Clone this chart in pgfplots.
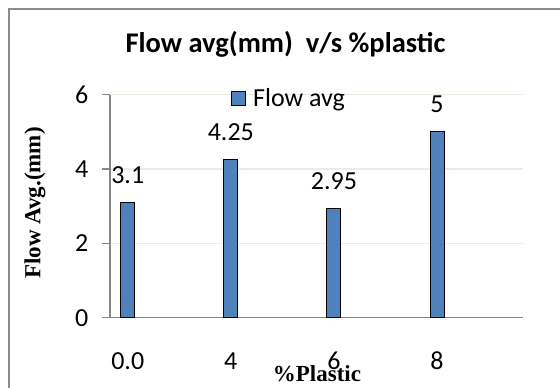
\documentclass[border=0pt]{standalone}
\usepackage{pgfplots}
\pgfplotsset{compat=1.18}
\usepackage{fontspec}
\setmainfont{Carlito}
\newfontfamily\tnr{Liberation Serif}
\definecolor{barblue}{RGB}{79,129,189}
\definecolor{gridc}{RGB}{238,236,225}
\definecolor{axisg}{RGB}{134,134,134}
\definecolor{frameg}{RGB}{140,140,140}
\begin{document}
\begin{tikzpicture}
\useasboundingbox (0pt,0pt) rectangle (560pt,388pt);
\fill[white] (0pt,0pt) rectangle (560pt,388pt);
\draw[frameg, line width=1.5pt] (9pt,0pt) -- (9pt,379pt) -- (560pt,379pt);
\begin{axis}[
  at={(110pt,70.3pt)}, anchor=south west,
  scale only axis, width=413pt, height=223pt,
  xmin=-0.172, xmax=3.834, ymin=0, ymax=6,
  ytick={0,2,4,6}, xtick={0,1,2,3}, xticklabels={0.0,4,6,8},
  /pgf/number format/assume math mode=true,
  axis x line*=bottom, axis y line*=left,
  axis line style={draw=axisg, line width=1.5pt, -},
  ymajorgrids, grid style={draw=gridc, line width=1.5pt},
  xtick style={draw=none},
  ytick style={draw=axisg, line width=1.5pt},
  tick align=outside, major tick length=7.5pt,
  tick label style={font=\fontsize{26}{31}\selectfont, inner sep=0pt},
  yticklabel style={anchor=east, xshift=-14pt},
  xticklabel style={anchor=base, yshift=-44pt},
  ybar, bar width=14pt,
  nodes near coords,
  nodes near coords style={anchor=base, yshift=19pt, inner sep=0pt, font=\fontsize{26}{31}\selectfont, text=black},
  legend style={at={(0.293,0.985)}, anchor=west, draw=none, fill=none, inner sep=0pt,
    font=\fontsize{26}{31}\selectfont, nodes={inner sep=0pt}},
  legend image code/.code={\draw[#1] (0pt,-7pt) rectangle (14pt,7pt);},
  legend cell align=left,
  clip=false,
]
\addplot[fill=barblue, draw=black, line width=1pt] coordinates {(0,3.1) (1,4.25) (2,2.95) (3,5)};
\addlegendentry{\hspace{7pt}Flow avg}
\end{axis}
\node[anchor=base, font=\bfseries\fontsize{28.5}{34}\selectfont] at (285.5pt,335pt) {Flow avg(mm)\ \ v/s \%plastic};
\node[anchor=base, font=\tnr\bfseries\fontsize{23}{28}\selectfont] at (317pt,6.5pt) {\%Plastic};
\node[rotate=90, font=\tnr\bfseries\fontsize{23}{28}\selectfont] at (35pt,185pt) {Flow Avg.(mm)};
\end{tikzpicture}
\end{document}
